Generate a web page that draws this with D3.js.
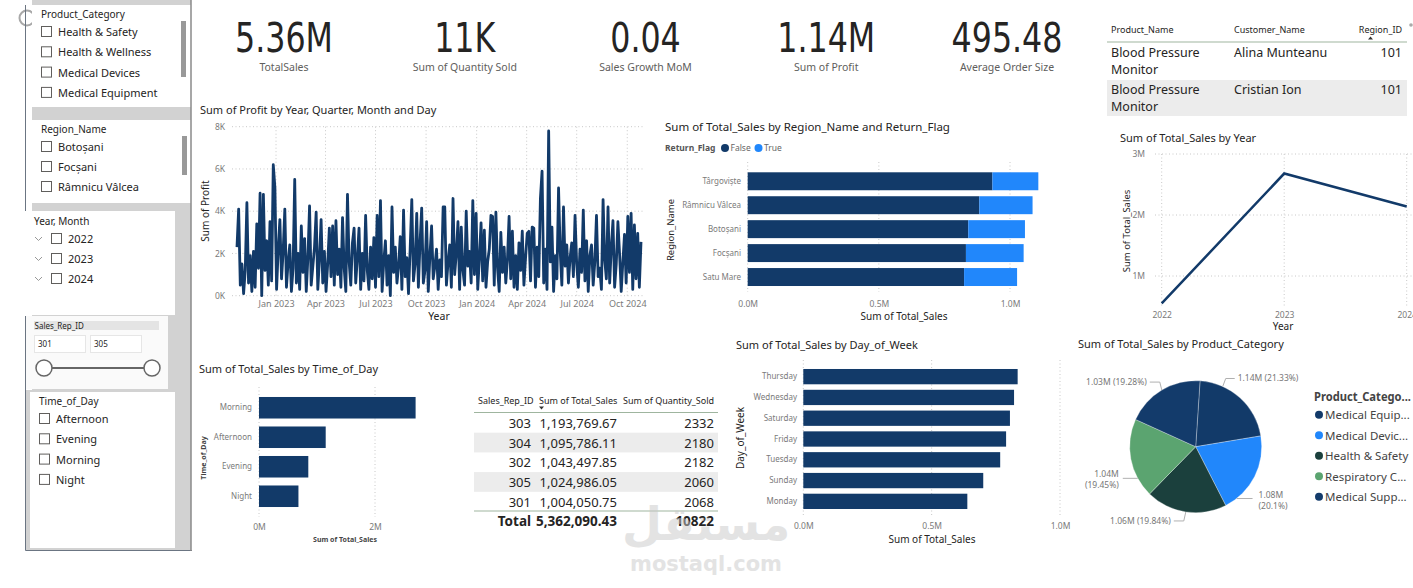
<!DOCTYPE html>
<html>
<head>
<meta charset="utf-8">
<script src="https://cdn.jsdelivr.net/npm/d3@7"></script>
<style>
body { margin: 0; background: #fff; overflow: hidden; }
svg text { font-family: "Segoe UI", "Noto Sans", sans-serif; }
</style>
</head>
<body>
<svg id="dash" width="1413" height="588"></svg>
<script>
// ---- data ----
const productSlicer = ["Health & Safety", "Health & Wellness", "Medical Devices", "Medical Equipment"];
const regionSlicer = ["Botoșani", "Focșani", "Râmnicu Vâlcea"];
const yearSlicer = ["2022", "2023", "2024"];
const timeSlicer = ["Afternoon", "Evening", "Morning", "Night"];
const repRange = ["301", "305"];

const kpiValues = ["5.36M", "11K", "0.04", "1.14M", "495.48"];
const kpiLabels = ["TotalSales", "Sum of Quantity Sold", "Sales Growth MoM", "Sum of Profit", "Average Order Size"];

// profit in K, one reading every 3 days from 2022-10-22
const profitStart = "2022-10-22";
const profitStepDays = 3;
const profitK = [
  2.3, 4.1, 0.5, 1.5, 0.1, 1.2, 4.4, 0.6, 1.9, 0.2,
  2.1, 0.4, 3.4, 1.3, 4.85, 0.0, 4.8, 1.2, 2.6, 0.5,
  3.5, 0.7, 6.2, 5.1, 0.3, 2.2, 3.6, 0.8, 2.1, 4.1,
  0.4, 1.6, 2.4, 0.2, 1.3, 5.5, 0.6, 2.0, 0.3, 3.3,
  1.1, 2.7, 0.2, 1.8, 4.25, 0.5, 1.4, 2.3, 3.95, 0.3,
  1.7, 3.6, 0.6, 2.1, 0.2, 1.5, 3.2, 0.9, 3.3, 0.5,
  3.55, 1.0, 2.2, 0.4, 3.7, 1.3, 0.2, 4.8, 1.6, 0.5,
  2.5, 3.2, 0.6, 1.8, 3.2, 0.3, 2.0, 0.7, 3.8, 1.2,
  0.3, 2.3, 0.8, 2.75, 0.4, 3.8, 0.9, 4.5, 0.2, 1.6,
  2.6, 0.5, 1.9, 0.0, 4.2, 1.1, 2.3, 0.6, 1.4, 2.8,
  0.3, 4.05, 0.9, 1.8, 0.1, 2.2, 4.55, 0.7, 1.5, 3.9,
  0.4, 2.5, 4.15, 0.6, 1.2, 3.5, 0.2, 1.9, 3.3, 0.8,
  1.4, 2.2, 0.3, 1.7, 0.9, 4.2, 4.2, 0.5, 1.6, 2.4,
  0.4, 4.6, 1.0, 2.0, 3.5, 0.3, 3.25, 1.2, 0.5, 4.0,
  1.4, 2.1, 0.6, 4.5, 1.0, 3.9, 0.3, 1.8, 3.45, 0.7,
  3.1, 0.4, 1.6, 2.2, 3.8, 3.75, 0.5, 3.95, 1.3, 0.2,
  3.0, 1.1, 2.3, 0.6, 1.7, 3.75, 0.8, 3.05, 0.4, 1.9,
  0.3, 2.5, 1.2, 3.05, 0.5, 1.8, 2.95, 3.05, 0.7, 3.25,
  3.2, 0.4, 2.3, 0.9, 4.6, 5.9, 0.6, 2.2, 0.3, 7.8,
  1.6, 3.25, 0.2, 1.9, 0.8, 5.1, 2.1, 0.5, 4.2, 1.4,
  2.4, 0.6, 1.8, 2.5, 0.9, 3.8, 1.5, 0.4, 2.2, 1.1,
  4.05, 0.7, 2.6, 0.2, 1.9, 2.4, 0.5, 1.6, 3.8, 0.9,
  1.3, 0.3, 4.55, 1.7, 0.8, 4.2, 0.6, 2.3, 3.55, 0.4,
  1.5, 3.5, 2.0, 0.2, 1.6, 2.9, 0.6, 3.75, 1.1, 3.9,
  0.3, 3.35, 0.8, 2.95, 0.4, 2.55
];
const profitTicksK = [0, 2, 4, 6, 8];

const regions = ["Târgoviște", "Râmnicu Vâlcea", "Botoșani", "Focșani", "Satu Mare"];
const regionFalseM = [0.933, 0.883, 0.841, 0.832, 0.825];
const regionTrueM = [0.175, 0.203, 0.216, 0.220, 0.202];

const detailProducts = ["Blood Pressure Monitor", "Blood Pressure Monitor"];
const detailCustomers = ["Alina Munteanu", "Cristian Ion"];
const detailRegionIds = ["101", "101"];

const salesYears = ["2022", "2023", "2024"];
const salesByYearM = [0.55, 2.68, 2.14];

const timeOfDay = ["Morning", "Afternoon", "Evening", "Night"];
const salesByTimeM = [2.70, 1.15, 0.85, 0.68];

const repIds = ["303", "304", "302", "305", "301"];
const repSales = [1193769.67, 1095786.11, 1043497.85, 1024986.05, 1004050.75];
const repQty = [2332, 2180, 2182, 2060, 2068];
const repTotalSales = 5362090.43;
const repTotalQty = 10822;

const weekDays = ["Thursday", "Wednesday", "Saturday", "Friday", "Tuesday", "Sunday", "Monday"];
const salesByDayM = [0.835, 0.821, 0.805, 0.790, 0.767, 0.701, 0.639];

const pieCategories = ["Medical Equipment", "Medical Devices", "Health & Safety", "Respiratory Care", "Medical Supplies"];
const pieLegendText = ["Medical Equip...", "Medical Devic...", "Health & Safety", "Respiratory C...", "Medical Supp..."];
const pieSalesM = [1.1437, 1.0778, 1.0638, 1.0429, 1.0338];

// ---- drawing ----
const NAVY = "#123a69", BLUE = "#2187fb", TEAL = "#1b403d", GREEN = "#5ba470";
const TXT = "#252423", TICK = "#7a7a7a", GRID = "#c8c8c8";
const svg = d3.select("#dash");

function label(g, x, y, t, size, opts) {
  opts = opts || {};
  const el = g.append("text").attr("x", x).attr("y", y).attr("font-size", size)
    .attr("fill", opts.fill || TXT).attr("text-anchor", opts.anchor || "start").text(t);
  if (opts.weight) el.attr("font-weight", opts.weight);
  if (opts.rotate) el.attr("transform", "rotate(-90," + x + "," + y + ")");
  if (opts.family) el.style("font-family", opts.family);
  return el;
}

function cleanAxis(g, size) {
  g.select(".domain").remove();
  g.selectAll(".tick line").remove();
  g.selectAll("text").attr("fill", TICK).attr("font-size", size || "9px");
}

// ---------- left slicer panel ----------
const side = svg.append("g");
side.append("circle").attr("cx", 27).attr("cy", 18).attr("r", 7.5)
  .attr("fill", "none").attr("stroke", "#a8a8a8").attr("stroke-width", 2);
side.append("rect").attr("x", 32).attr("y", 0).attr("width", 159).attr("height", 550).attr("fill", "#d2d2d2");
side.append("rect").attr("x", 26).attr("y", 390).attr("width", 6).attr("height", 160).attr("fill", "#d2d2d2");

function box(x, y, w, h, fill) {
  side.append("rect").attr("x", x).attr("y", y).attr("width", w).attr("height", h).attr("fill", fill || "#fff");
}
function checkbox(x, cy) {
  side.append("rect").attr("x", x + 0.5).attr("y", cy - 5.5).attr("width", 10).attr("height", 10)
    .attr("fill", "#fff").attr("stroke", "#605e5c").attr("stroke-width", 1);
}

box(32, 5, 159, 102);
label(side, 41, 18, "Product_Category", "10px");
productSlicer.forEach((d, i) => {
  const cy = 32 + i * 20.3;
  checkbox(41, cy);
  label(side, 58, cy + 4, d, "11px");
});
side.append("rect").attr("x", 181).attr("y", 21).attr("width", 5).attr("height", 56).attr("fill", "#999");

box(32, 120, 159, 83);
label(side, 41, 133, "Region_Name", "10px");
regionSlicer.forEach((d, i) => {
  const cy = 147 + i * 20;
  checkbox(41, cy);
  label(side, 58, cy + 4, d, "11px");
});
side.append("rect").attr("x", 182).attr("y", 136).attr("width", 5).attr("height", 39).attr("fill", "#999");

box(26, 211, 149, 104);
label(side, 34, 225, "Year, Month", "10px");
yearSlicer.forEach((d, i) => {
  const cy = 239 + i * 20;
  side.append("path").attr("d", "M35," + (cy - 2) + "L38.5," + (cy + 1.5) + "L42," + (cy - 2))
    .attr("fill", "none").attr("stroke", "#999").attr("stroke-width", 1);
  checkbox(51, cy);
  label(side, 68, cy + 4, d, "11px");
});

box(26, 316, 142, 73, "#fafafa");
side.append("rect").attr("x", 34).attr("y", 321).attr("width", 125).attr("height", 9).attr("fill", "#e4e4e4");
label(side, 34.5, 328.5, "Sales_Rep_ID", "8px");
repRange.forEach((d, i) => {
  const x = 34 + i * 56;
  side.append("rect").attr("x", x + 0.5).attr("y", 335.5).attr("width", 51).attr("height", 17)
    .attr("fill", "#fff").attr("stroke", "#e6e6e6");
  label(side, x + 4, 347, d, "8px");
});
side.append("line").attr("x1", 44).attr("x2", 152).attr("y1", 368).attr("y2", 368)
  .attr("stroke", "#666").attr("stroke-width", 2);
[44, 152].forEach(cx => side.append("circle").attr("cx", cx).attr("cy", 368).attr("r", 8)
  .attr("fill", "#fff").attr("stroke", "#666").attr("stroke-width", 1.5));

box(30, 392, 145, 156);
label(side, 39, 405, "Time_of_Day", "10px");
timeSlicer.forEach((d, i) => {
  const cy = 419 + i * 20.3;
  checkbox(39, cy);
  label(side, 56, cy + 4, d, "11px");
});

side.append("path").attr("d", "M25.5,5V211M25.5,316V550.5H192")
  .attr("fill", "none").attr("stroke", "#6b7582").attr("stroke-width", 1);
side.append("line").attr("x1", 191).attr("x2", 191).attr("y1", 0).attr("y2", 551)
  .attr("stroke", "#8a8a8a").attr("stroke-width", 1.5);

// ---------- KPI cards ----------
const kpiX = d3.scalePoint().domain(kpiLabels).range([284, 1007]);
const kpi = svg.append("g");
kpiLabels.forEach((d, i) => {
  const g = kpi.append("g").attr("transform", "translate(" + kpiX(d) + ",52) scale(0.86,1)");
  label(g, 0, 0, kpiValues[i], "41px",
    { anchor: "middle", family: "'Liberation Sans Narrow','DejaVu Sans Condensed',sans-serif" });
  label(kpi, kpiX(d), 71, d, "10.5px", { anchor: "middle", fill: "#605e5c" });
});

// ---------- profit line ----------
const parseDay = d3.timeParse("%Y-%m-%d");
const profitDates = profitK.map((v, i) => d3.timeDay.offset(parseDay(profitStart), i * profitStepDays));
const pg = svg.append("g");
label(pg, 200, 114, "Sum of Profit by Year, Quarter, Month and Day", "11px");
const px = d3.scaleTime().domain(d3.extent(profitDates)).range([237, 641]);
const py = d3.scaleLinear().domain([0, 8]).range([295.7, 126.7]);
const monthTicks = d3.timeMonth.every(3).range(new Date(2022, 11, 31), profitDates[profitDates.length - 1]);
pg.selectAll(".hg").data(profitTicksK).join("line")
  .attr("x1", 232).attr("x2", 645).attr("y1", d => py(d)).attr("y2", d => py(d))
  .attr("stroke", GRID).attr("stroke-dasharray", "1,2.5");
pg.selectAll(".vg").data(monthTicks).join("line")
  .attr("x1", d => px(d)).attr("x2", d => px(d)).attr("y1", 126.7).attr("y2", 295.7)
  .attr("stroke", GRID).attr("stroke-dasharray", "1,2.5");
pg.append("path")
  .attr("d", d3.line().x((d, i) => px(profitDates[i])).y(d => py(d))(profitK))
  .attr("fill", "none").attr("stroke", NAVY).attr("stroke-width", 2.8).attr("stroke-linejoin", "round");
pg.append("g").attr("transform", "translate(0,296)")
  .call(d3.axisBottom(px).tickValues(monthTicks).tickFormat(d3.timeFormat("%b %Y")).tickSize(0).tickPadding(5))
  .call(g => cleanAxis(g, "9px"));
pg.append("g").attr("transform", "translate(231,0)")
  .call(d3.axisLeft(py).tickValues(profitTicksK).tickFormat(d => d + "K").tickSize(0).tickPadding(6))
  .call(g => cleanAxis(g, "8.5px"));
label(pg, 439, 320, "Year", "10.5px", { anchor: "middle" });
label(pg, 209, 211, "Sum of Profit", "10px", { anchor: "middle", rotate: true });

// ---------- region stacked bars ----------
const rg = svg.append("g");
label(rg, 665, 131, "Sum of Total_Sales by Region_Name and Return_Flag", "11.5px");
label(rg, 665, 151, "Return_Flag", "8.5px", { weight: "bold", fill: "#555" });
rg.append("circle").attr("cx", 725).attr("cy", 148).attr("r", 4).attr("fill", NAVY);
label(rg, 730.5, 151, "False", "8.5px", { fill: "#666" });
rg.append("circle").attr("cx", 758.5).attr("cy", 148).attr("r", 4).attr("fill", BLUE);
label(rg, 764, 151, "True", "8.5px", { fill: "#666" });
const rx = d3.scaleLinear().domain([0, 1]).range([747.7, 1010]);
const ry = d3.scaleBand().domain(regions).range([169.3, 289]).paddingInner(0.25).paddingOuter(0.125);
rg.selectAll(".rgv").data([0, 0.5, 1]).join("line")
  .attr("x1", d => rx(d)).attr("x2", d => rx(d)).attr("y1", 162).attr("y2", 292)
  .attr("stroke", GRID).attr("stroke-dasharray", "1,2.5");
rg.selectAll(".rf").data(regions).join("rect")
  .attr("x", rx(0)).attr("y", d => ry(d)).attr("height", ry.bandwidth())
  .attr("width", (d, i) => rx(regionFalseM[i]) - rx(0)).attr("fill", NAVY);
rg.selectAll(".rt").data(regions).join("rect")
  .attr("x", (d, i) => rx(regionFalseM[i])).attr("y", d => ry(d)).attr("height", ry.bandwidth())
  .attr("width", (d, i) => rx(regionFalseM[i] + regionTrueM[i]) - rx(regionFalseM[i])).attr("fill", BLUE);
rg.append("g").attr("transform", "translate(0,296)")
  .call(d3.axisBottom(rx).tickValues([0, 0.5, 1]).tickFormat(d => d3.format(".1f")(d) + "M").tickSize(0).tickPadding(5))
  .call(g => cleanAxis(g, "8.5px"));
rg.append("g").attr("transform", "translate(747,0)")
  .call(d3.axisLeft(ry).tickSize(0).tickPadding(6))
  .call(g => cleanAxis(g, "8px"));
label(rg, 904, 320, "Sum of Total_Sales", "10px", { anchor: "middle" });
label(rg, 674, 230, "Region_Name", "9.5px", { anchor: "middle", rotate: true });

// ---------- detail table (top right) ----------
const tg = svg.append("g");
label(tg, 1111, 33, "Product_Name", "9px");
label(tg, 1234, 33, "Customer_Name", "9px");
label(tg, 1402, 33, "Region_ID", "9px", { anchor: "end" });
tg.append("path").attr("d", "M1368,39.5l2.5,-3l2.5,3z").attr("fill", "#333");
tg.append("circle").attr("cx", 1411).attr("cy", 25).attr("r", 1.8).attr("fill", "#aaa");
tg.append("rect").attr("x", 1107).attr("y", 80).attr("width", 300).attr("height", 36).attr("fill", "#ececec");
tg.append("line").attr("x1", 1107).attr("x2", 1407).attr("y1", 42).attr("y2", 42).attr("stroke", "#9fb59f");
detailProducts.forEach((d, i) => {
  const y0 = 57 + i * 37;
  const words = d.split(" ");
  label(tg, 1111, y0, words.slice(0, 2).join(" "), "12.5px");
  label(tg, 1111, y0 + 17, words.slice(2).join(" "), "12.5px");
  label(tg, 1234, y0, detailCustomers[i], "12.5px");
  label(tg, 1402, y0, detailRegionIds[i], "12.5px", { anchor: "end" });
});

// ---------- sales by year ----------
const yg = svg.append("g");
label(yg, 1120, 142, "Sum of Total_Sales by Year", "11px");
const yx = d3.scalePoint().domain(salesYears).range([1161.7, 1406.7]);
const yy = d3.scaleLinear().domain([0, 3]).range([337, 154]);
yg.selectAll(".yh").data([1, 2, 3]).join("line")
  .attr("x1", 1155).attr("x2", 1413).attr("y1", d => yy(d)).attr("y2", d => yy(d))
  .attr("stroke", GRID).attr("stroke-dasharray", "1,2.5");
yg.selectAll(".yv").data(salesYears).join("line")
  .attr("x1", d => yx(d)).attr("x2", d => yx(d)).attr("y1", 154).attr("y2", 306)
  .attr("stroke", GRID).attr("stroke-dasharray", "1,2.5");
yg.append("path")
  .attr("d", d3.line().x((d, i) => yx(salesYears[i])).y(d => yy(d))(salesByYearM))
  .attr("fill", "none").attr("stroke", NAVY).attr("stroke-width", 2.5);
yg.append("g").attr("transform", "translate(0,308)")
  .call(d3.axisBottom(yx).tickSize(0).tickPadding(4))
  .call(g => cleanAxis(g, "8.5px"));
yg.append("g").attr("transform", "translate(1151,0)")
  .call(d3.axisLeft(yy).tickValues([1, 2, 3]).tickFormat(d => d + "M").tickSize(0).tickPadding(6))
  .call(g => cleanAxis(g, "8.5px"));
label(yg, 1283, 330, "Year", "10px", { anchor: "middle" });
label(yg, 1130, 231, "Sum of Total_Sales", "9.5px", { anchor: "middle", rotate: true });

// ---------- time of day ----------
const og = svg.append("g");
label(og, 199, 373, "Sum of Total_Sales by Time_of_Day", "11px");
const ox = d3.scaleLinear().domain([0, 2]).range([259, 375]);
const oy = d3.scaleBand().domain(timeOfDay).range([393, 511]).paddingInner(0.27).paddingOuter(0.135);
og.selectAll(".ov").data([0, 2]).join("line")
  .attr("x1", d => ox(d)).attr("x2", d => ox(d)).attr("y1", 387).attr("y2", 517)
  .attr("stroke", GRID).attr("stroke-dasharray", "1,2.5");
og.selectAll(".ob").data(timeOfDay).join("rect")
  .attr("x", ox(0)).attr("y", d => oy(d)).attr("height", oy.bandwidth())
  .attr("width", (d, i) => ox(salesByTimeM[i]) - ox(0)).attr("fill", NAVY);
og.append("g").attr("transform", "translate(0,520)")
  .call(d3.axisBottom(ox).tickValues([0, 2]).tickFormat(d => d + "M").tickSize(0).tickPadding(4))
  .call(g => cleanAxis(g, "8.5px"));
og.append("g").attr("transform", "translate(258,0)")
  .call(d3.axisLeft(oy).tickSize(0).tickPadding(6))
  .call(g => cleanAxis(g, "8px"));
label(og, 345, 542, "Sum of Total_Sales", "7px", { anchor: "middle", weight: "bold", fill: "#444" });
label(og, 206, 458, "Time_of_Day", "7px", { anchor: "middle", weight: "bold", fill: "#444", rotate: true });

// ---------- sales rep table ----------
const sg = svg.append("g");
const fmtSales = d3.format(",.2f");
label(sg, 478, 404, "Sales_Rep_ID", "9px");
label(sg, 539, 404, "Sum of Total_Sales", "9px");
label(sg, 714, 404, "Sum of Quantity_Sold", "9px", { anchor: "end" });
sg.append("path").attr("d", "M539,406.5h5l-2.5,3z").attr("fill", "#333");
sg.append("line").attr("x1", 474).attr("x2", 718).attr("y1", 412.5).attr("y2", 412.5).attr("stroke", "#9fb59f");
const rowY = d3.scaleBand().domain(repIds).range([413, 511.5]);
sg.selectAll(".rowbg").data(repIds.filter((d, i) => i % 2 === 1)).join("rect")
  .attr("x", 474).attr("width", 244).attr("y", d => rowY(d)).attr("height", rowY.bandwidth()).attr("fill", "#ececec");
repIds.forEach((d, i) => {
  const y = rowY(d) + rowY.bandwidth() / 2 + 5;
  label(sg, 531, y, d, "13px", { anchor: "end" });
  label(sg, 617, y, fmtSales(repSales[i]), "13px", { anchor: "end" });
  label(sg, 714, y, repQty[i], "13px", { anchor: "end" });
});
sg.append("line").attr("x1", 474).attr("x2", 718).attr("y1", 511).attr("y2", 511).attr("stroke", "#9fb59f");
label(sg, 531, 526, "Total", "13.5px", { anchor: "end", weight: "bold" });
label(sg, 617, 526, fmtSales(repTotalSales), "13.5px", { anchor: "end", weight: "bold" });
label(sg, 714, 526, repTotalQty, "13.5px", { anchor: "end", weight: "bold" });

// ---------- day of week ----------
const dg = svg.append("g");
label(dg, 736, 349, "Sum of Total_Sales by Day_of_Week", "11px");
const dx = d3.scaleLinear().domain([0, 1]).range([803.3, 1060]);
const dy = d3.scaleBand().domain(weekDays).range([366.25, 511.75]).paddingInner(0.264).paddingOuter(0.132);
dg.selectAll(".dv").data([0, 0.5, 1]).join("line")
  .attr("x1", d => dx(d)).attr("x2", d => dx(d)).attr("y1", 360).attr("y2", 516)
  .attr("stroke", GRID).attr("stroke-dasharray", "1,2.5");
dg.selectAll(".db").data(weekDays).join("rect")
  .attr("x", dx(0)).attr("y", d => dy(d)).attr("height", dy.bandwidth())
  .attr("width", (d, i) => dx(salesByDayM[i]) - dx(0)).attr("fill", NAVY);
dg.append("g").attr("transform", "translate(0,519)")
  .call(d3.axisBottom(dx).tickValues([0, 0.5, 1]).tickFormat(d => d3.format(".1f")(d) + "M").tickSize(0).tickPadding(4))
  .call(g => cleanAxis(g, "8.5px"));
dg.append("g").attr("transform", "translate(803,0)")
  .call(d3.axisLeft(dy).tickSize(0).tickPadding(6))
  .call(g => cleanAxis(g, "8px"));
label(dg, 932, 543, "Sum of Total_Sales", "10px", { anchor: "middle" });
label(dg, 744, 438, "Day_of_Week", "10px", { anchor: "middle", rotate: true });

// ---------- pie ----------
const qg = svg.append("g");
label(qg, 1078, 348, "Sum of Total_Sales by Product_Category", "11px");
const pieColors = d3.scaleOrdinal().domain(pieCategories).range([NAVY, BLUE, TEAL, GREEN, "#133b6b"]);
const pieTotal = d3.sum(pieSalesM);
const rot = 0.066;
const arcs = d3.pie().sort(null).startAngle(rot).endAngle(rot + 2 * Math.PI)(pieSalesM);
const R = 66, cx = 1195.7, cy = 446.7;
const arc = d3.arc().innerRadius(0).outerRadius(R);
const pieG = qg.append("g").attr("transform", "translate(" + cx + "," + cy + ")");
pieG.selectAll("path").data(arcs).join("path")
  .attr("d", arc).attr("fill", (d, i) => pieColors(pieCategories[i]))
  .attr("stroke", "#fff").attr("stroke-opacity", 0.5).attr("stroke-width", 0.6);
const pct = d3.format(".2~%");
// where each leader line leaves its slice, relative to the slice middle (degrees)
const leaderShift = [-18, 25, 0, -18, 0];
arcs.forEach((a, i) => {
  const ang = (a.startAngle + a.endAngle) / 2 + leaderShift[i] * Math.PI / 180;
  const sx = Math.sin(ang), sy = -Math.cos(ang);
  const ex = cx + sx * R, ey = cy + sy * R;
  const right = sx > 0;
  const v = d3.format(".2f")(pieSalesM[i]) + "M";
  const p = "(" + pct(pieSalesM[i] / pieTotal) + ")";
  const anchor = right ? "start" : "end";
  if (Math.abs(sx) < 0.55) {
    const ky = ey + (sy < 0 ? -8 : 9), kx = ex + (right ? 3 : -2);
    const hx = kx + (right ? 9 : -10);
    qg.append("path").attr("d", "M" + ex + "," + ey + "L" + kx + "," + ky + "L" + hx + "," + ky)
      .attr("fill", "none").attr("stroke", "#b0b0b0").attr("stroke-width", 1);
    label(qg, hx + (right ? 3 : -3), ky + 3, v + " " + p, "8.5px", { anchor: anchor, fill: "#777" });
  } else {
    const hx = ex + (right ? 16 : -15);
    qg.append("path").attr("d", "M" + ex + "," + ey + "L" + hx + "," + ey)
      .attr("fill", "none").attr("stroke", "#b0b0b0").attr("stroke-width", 1);
    const tx = hx + (right ? 6 : -4);
    label(qg, tx, ey - 1, v, "8.5px", { anchor: anchor, fill: "#777" });
    label(qg, tx, ey + 10, p, "8.5px", { anchor: anchor, fill: "#777" });
  }
});
label(qg, 1314, 401, "Product_Catego...", "12px", { weight: "bold", fill: "#444" })
  .attr("textLength", 97).attr("lengthAdjust", "spacingAndGlyphs");
pieCategories.forEach((d, i) => {
  const ly = 414.7 + i * 20.5;
  qg.append("circle").attr("cx", 1319).attr("cy", ly).attr("r", 4).attr("fill", pieColors(d));
  label(qg, 1325, ly + 4.5, pieLegendText[i], "11.5px", { fill: "#444" });
});

// ---------- watermark ----------
const wm = svg.append("g").attr("opacity", 0.5);
label(wm, 706, 540, "مستقل", "46px", { anchor: "middle", weight: "bold", fill: "#c8c8c8", family: "'DejaVu Sans',sans-serif" });
label(wm, 706, 571, "mostaql.com", "21px", { anchor: "middle", weight: "bold", fill: "#c8c8c8", family: "'DejaVu Sans',sans-serif" });
</script>
</body>
</html>
